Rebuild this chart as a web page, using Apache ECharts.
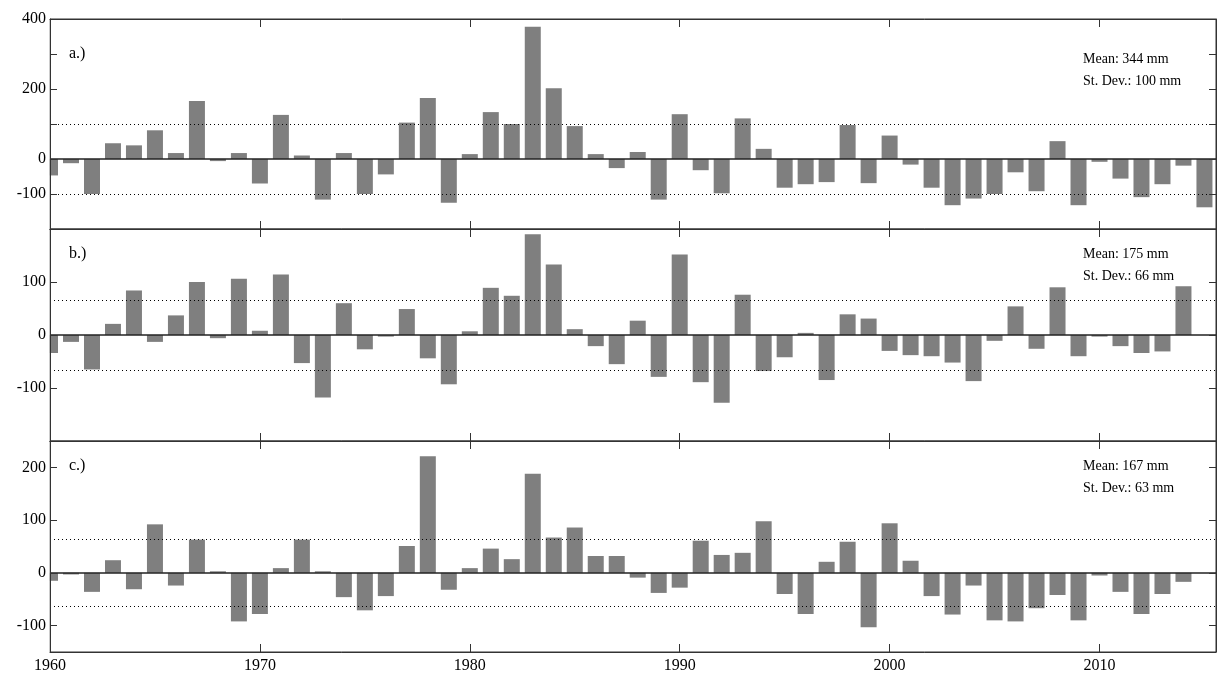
<!DOCTYPE html>
<html>
<head>
<meta charset="utf-8">
<title>Anomalies</title>
<style>
  html, body { margin: 0; padding: 0; background: #fff; }
  #main { width: 1227px; height: 677px; }
</style>
</head>
<body>
<div id="main"></div>
<script src="https://cdn.jsdelivr.net/npm/echarts@6/dist/echarts.min.js"></script>
<script>
// years 1960..2015
var years = [];
for (var y = 1960; y <= 2015; y++) years.push(y);

// anomalies (mm)
var seriesA = [-47,-12,-100,45,39,82,17,166,-6,17,-70,126,10,-116,17,-100,-44,104,174,-125,
  14,134,100,378,202,94,14,-26,20,-116,128,-32,-98,116,29,-82,-72,-66,97,-69,
  67,-16,-82,-132,-113,-100,-38,-92,51,-132,-8,-56,-109,-72,-19,-138];
var seriesB = [-34,-13,-65,21,84,-13,37,100,-6,106,8,114,-53,-118,60,-27,-3,49,-44,-93,
  7,89,74,190,133,11,-21,-55,27,-79,152,-89,-128,76,-68,-42,4,-85,39,31,
  -30,-38,-40,-52,-87,-11,54,-26,90,-40,-3,-21,-34,-31,92,null];
var seriesC = [-15,-3,-36,24,-31,92,-24,63,3,-92,-78,9,63,3,-46,-71,-44,51,221,-32,
  9,46,26,188,67,86,32,32,-9,-38,-28,61,34,38,98,-40,-78,21,59,-103,
  94,23,-44,-79,-24,-90,-92,-67,-42,-90,-5,-36,-78,-40,-17,null];

var panelNames = ['a.)', 'b.)', 'c.)'];
var meanText = ['Mean: 344 mm', 'Mean: 175 mm', 'Mean: 167 mm'];
var sdText = ['St. Dev.: 100 mm', 'St. Dev.: 66 mm', 'St. Dev.: 63 mm'];
var sdValues = [100, 66, 63];
var yMin = [-200, -200, -150];
var yMax = [400, 200, 250];
var yLabels = [[400, 200, 0, -100], [100, 0, -100], [200, 100, 0, -100]];
var xLabels = [1960, 1970, 1980, 1990, 2000, 2010];

var allData = [seriesA, seriesB, seriesC];
var tops = [19, 229, 441];
var heights = [210, 212, 211];
var FONT = 'Liberation Serif';

var grids = [], xAxes = [], yAxes = [], series = [], graphics = [];
for (var i = 0; i < 3; i++) {
  grids.push({ left: 50, right: 11, top: tops[i], height: heights[i],
    show: true, borderColor: '#333', borderWidth: 1, backgroundColor: 'transparent' });
  var last = i === 2;
  var xBase = { type: 'value', gridIndex: i, min: 1960, max: 2015.55, interval: 10, z: 10,
    splitLine: { show: false },
    axisLine: { show: true, onZero: false, lineStyle: { color: '#333' } },
    axisTick: { show: true, inside: true, length: 8, lineStyle: { color: '#333' } } };
  xAxes.push(Object.assign({}, xBase, { position: 'bottom',
    axisLabel: { show: last, color: '#000', fontFamily: FONT, fontSize: 16, margin: 6,
      formatter: function (v) { return xLabels.indexOf(v) >= 0 ? String(v) : ''; } } }));
  xAxes.push(Object.assign({}, xBase, { position: 'top', axisLabel: { show: false } }));
  (function (labels) {
    var yBase = { type: 'value', gridIndex: i, min: yMin[i], max: yMax[i], z: 10,
      interval: i === 2 ? undefined : 100, splitNumber: 4,
      splitLine: { show: false },
      axisLine: { show: true, lineStyle: { color: '#333' } },
      axisTick: { show: true, inside: true, length: 7, lineStyle: { color: '#333' } } };
    yAxes.push(Object.assign({}, yBase, { position: 'left',
      axisLabel: { color: '#000', fontFamily: FONT, fontSize: 16, margin: 4,
        showMinLabel: false, showMaxLabel: i === 0,
        formatter: function (v) { return labels.indexOf(v) >= 0 ? String(v) : ''; } } }));
    yAxes.push(Object.assign({}, yBase, { position: 'right', axisLabel: { show: false } }));
  })(yLabels[i]);

  var data = [];
  for (var k = 0; k < years.length; k++) {
    if (allData[i][k] !== null) data.push([years[k], allData[i][k]]);
  }
  series.push({
    type: 'bar', xAxisIndex: 2 * i, yAxisIndex: 2 * i, data: data, barWidth: 16,
    itemStyle: { color: '#7f7f7f' }, silent: true, animation: false, clip: true,
    markLine: {
      silent: true, symbol: ['none', 'none'], label: { show: false }, animation: false,
      data: [
        { yAxis: sdValues[i], lineStyle: { type: [1, 3], color: '#000', width: 1 } },
        { yAxis: -sdValues[i], lineStyle: { type: [1, 3], color: '#000', width: 1 } },
        { yAxis: 0, lineStyle: { type: 'solid', color: '#222', width: 1.5 } }
      ]
    }
  });

  graphics.push({ type: 'text', left: 69, top: tops[i] + 27 - (i === 0 ? 0 : 10),
    style: { text: panelNames[i], font: '16px "' + FONT + '"', fill: '#000' } });
  graphics.push({ type: 'text', left: 1083, top: tops[i] + (i === 0 ? 29 : 14),
    style: { text: meanText[i] + '\n' + sdText[i], font: '14px "' + FONT + '"',
      fill: '#000', lineHeight: 22 } });
}
// white margin so the half-bar at 1960 does not spill left of the axis
graphics.push({ type: 'rect', left: 0, top: 0, z: 5,
  shape: { width: 49.5, height: 653 }, style: { fill: '#fff' } });

var chart = echarts.init(document.getElementById('main'));
chart.setOption({
  animation: false,
  grid: grids, xAxis: xAxes, yAxis: yAxes, series: series, graphic: graphics
});
</script>
</body>
</html>
